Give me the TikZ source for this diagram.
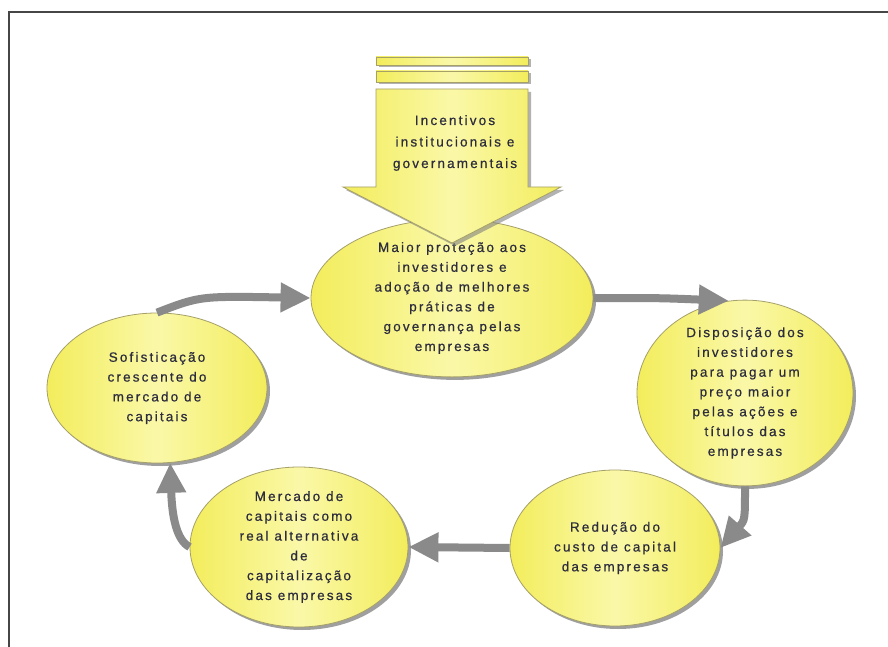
\documentclass[tikz,border=0pt]{standalone}
\usepackage{fontspec}
\setmainfont{Liberation Sans}[LetterSpace=16,FakeBold=0.6]
\usetikzlibrary{shapes.geometric,shadows,arrows.meta,calc}
\definecolor{yel}{RGB}{243,237,92}
\definecolor{yellt}{RGB}{250,248,168}
\definecolor{conn}{RGB}{138,138,138}
\definecolor{txt}{RGB}{45,45,62}
\definecolor{edge}{RGB}{165,160,105}
\definecolor{frame}{RGB}{70,70,70}
\begin{document}
\begin{tikzpicture}[x=1pt,y=-1pt,
  bub/.style={ellipse, draw=edge, line width=0.8pt, left color=yel, right color=yel, middle color=yellt,
    drop shadow={shadow xshift=3pt, shadow yshift=-3pt, fill=black!50, opacity=0.75},
    inner sep=0pt, text=txt, font=\fontsize{13.5}{19.8}\selectfont, align=center},
  flow/.style={draw=conn, line width=8pt, -{Triangle[length=30pt,width=28pt]}},
  lbl/.style={text=txt, font=\fontsize{13.5}{21.5}\selectfont, align=center, inner sep=0pt}]
\useasboundingbox (0,0) rectangle (888,647);
\fill[white] (0,0) rectangle (888,647);
% frame
\draw[frame, line width=1.6pt] (9,647) -- (9,12) -- (888,12);

% ellipses
\node[bub, minimum width=282pt, minimum height=136pt] (e1) at (452,298)
  {Maior proteção aos\\investidores e\\adoção de melhores\\práticas de\\governança pelas\\empresas};
\node[bub, minimum width=216pt, minimum height=160pt] (e2) at (745,393)
  {Disposição dos\\investidores\\para pagar um\\preço maior\\pelas ações e\\títulos das\\empresas};
\node[bub, minimum width=210pt, minimum height=156pt] (e3) at (615,548)
  {Redução do\\custo de capital\\das empresas};
\node[bub, minimum width=218pt, minimum height=160pt] (e4) at (299,547)
  {Mercado de\\capitais como\\real alternativa\\de\\capitalização\\das empresas};
\node[bub, minimum width=220pt, minimum height=150pt] (e5) at (157,388)
  {Sofisticação\\crescente do\\mercado de\\capitais};

% connectors
\draw[flow] (e5.north) .. controls (200,296) .. (e1.west);
\draw[flow] (e1.east) .. controls (660,298) .. (e2.100);
\draw[flow] (e2.south) .. controls (745,520) .. (e3.east);
\draw[flow] (e3.west) -- (e4.east);
\draw[flow] (e4.west) .. controls (176,540) and (172,515) .. (e5.-80);

% top input arrow
\fill[black!50, opacity=0.6, shift={(3,3)}]
  (376,89) -- (528,89) -- (528,187) -- (561,187) -- (452,243) -- (343,187) -- (376,187) -- cycle;
\fill[black!50, opacity=0.6, shift={(3,2)}] (376,57) rectangle (528,65);
\fill[black!50, opacity=0.6, shift={(3,2)}] (376,71) rectangle (528,82);
\path[draw=edge, line width=0.8pt, left color=yel, right color=yel, middle color=yellt]
  (376,89) -- (528,89) -- (528,187) -- (561,187) -- (452,243) -- (343,187) -- (376,187) -- cycle;
\path[draw=edge, line width=0.8pt, left color=yel, right color=yel, middle color=yellt] (376,57) rectangle (528,65);
\path[draw=edge, line width=0.8pt, left color=yel, right color=yel, middle color=yellt] (376,71) rectangle (528,82);
\node[lbl] (inc) at (455,143) {Incentivos\\institucionais e\\governamentais};
\end{tikzpicture}
\end{document}
